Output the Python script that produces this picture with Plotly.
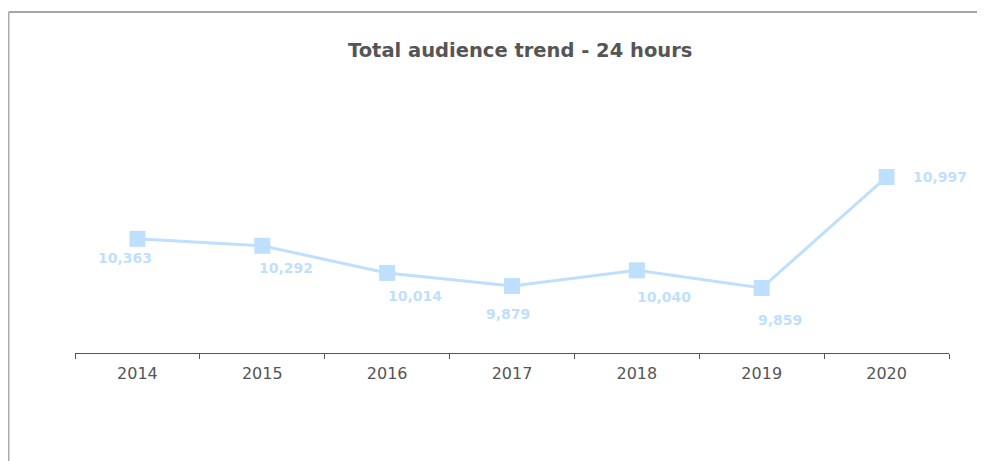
import plotly.graph_objects as go

years = ["2014", "2015", "2016", "2017", "2018", "2019", "2020"]
audience = [10363, 10292, 10014, 9879, 10040, 9859, 10997]
labels = ["10,363", "10,292", "10,014", "9,879", "10,040", "9,859", "10,997"]

# label offsets in pixels (dx, dy) relative to marker
label_offsets = [(-12, -19), (24, -22), (28, -23), (-4, -28), (27, -27), (18, -32), (53, 0)]

blue = "#bfdfff"
grey = "#555555"

ML, MR, MT, MB = 67, 44, 72, 116
PW = 985 - ML - MR
PH = 461 - MT - MB

fig = go.Figure()
fig.add_trace(go.Scatter(
    x=years, y=audience, mode="lines+markers",
    line=dict(color=blue, width=3),
    marker=dict(symbol="square", size=16, color=blue),
    hoverinfo="skip", showlegend=False,
))

for i, (val, lab, (dx, dy)) in enumerate(zip(audience, labels, label_offsets)):
    fig.add_annotation(
        x=i, y=val, xref="x", yref="y", text="<b>" + lab + "</b>", showarrow=False,
        xshift=dx, yshift=dy,
        font=dict(family="DejaVu Sans", size=14, color=blue),
    )

fig.add_annotation(
    xref="paper", yref="paper", x=(512 - ML) / PW, y=1, yshift=(MT - 42),
    text="<b>Total audience trend - 24 hours</b>", showarrow=False,
    font=dict(family="DejaVu Sans", size=19.5, color=grey),
    yanchor="middle",
)

# border lines
top_y = 1 + (MT - 4) / PH
left_x = (0.75 - ML) / PW
fig.add_shape(type="line", xref="paper", yref="paper",
              x0=left_x, x1=(1100 - ML) / PW,
              y0=top_y, y1=top_y,
              line=dict(color="#888888", width=1.5))
fig.add_shape(type="line", xref="paper", yref="paper",
              x0=left_x, x1=left_x,
              y0=top_y, y1=-MB / PH,
              line=dict(color="#aaaaaa", width=1.5))

fig.update_xaxes(
    type="category", range=[-0.5, 6.5],
    showline=True, linecolor=grey, linewidth=1,
    ticks="outside", tickson="boundaries", ticklen=5, tickcolor=grey,
    ticklabelstandoff=6,
    showgrid=False, zeroline=False,
    tickfont=dict(family="DejaVu Sans", size=16, color=grey),
)
fig.update_yaxes(visible=False, range=[9193, 11991])

fig.update_layout(
    width=985, height=461,
    margin=dict(l=ML, r=MR, t=MT, b=MB),
    paper_bgcolor="white", plot_bgcolor="white",
)

fig.write_html("out.html")
